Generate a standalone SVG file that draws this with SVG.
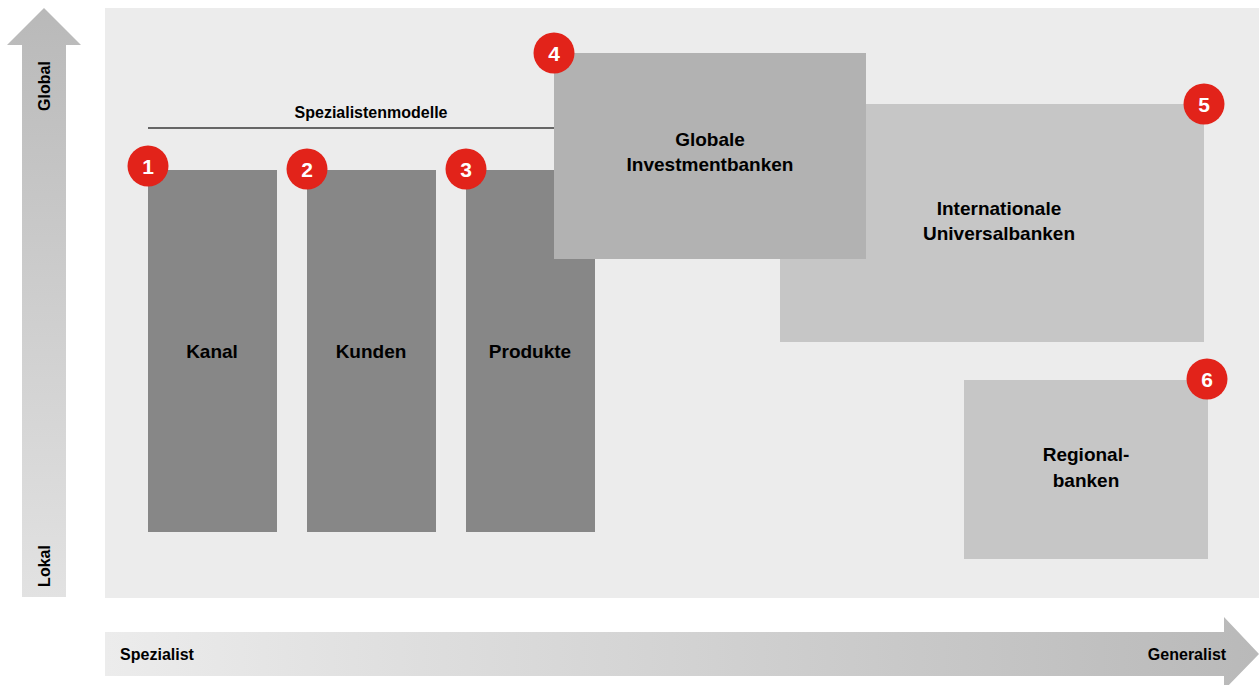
<svg xmlns="http://www.w3.org/2000/svg" width="1259" height="685" viewBox="0 0 1259 685">
  <defs>
    <linearGradient id="gradV" x1="0" y1="0" x2="0" y2="1">
      <stop offset="0" stop-color="#b9b9b9"/>
      <stop offset="1" stop-color="#e2e2e2"/>
    </linearGradient>
    <linearGradient id="gradH" x1="0" y1="0" x2="1" y2="0">
      <stop offset="0" stop-color="#ececec"/>
      <stop offset="1" stop-color="#b9b9b9"/>
    </linearGradient>
    <style>
      .lbl { font-family: "Liberation Sans", Arial, sans-serif; font-weight: bold; fill: #000; text-anchor: middle; }
      .big { font-size: 19px; }
      .small { font-size: 16px; }
      .dark { fill: #878787; }
      .mid { fill: #b2b2b2; }
      .light { fill: #c6c6c6; }
      .badge circle { fill: #e2231a; }
      .badge text { font-family: "Liberation Sans", Arial, sans-serif; font-weight: bold; font-size: 21px; fill: #fff; text-anchor: middle; }
    </style>
  </defs>

  <!-- plot area -->
  <rect x="105" y="8" width="1154" height="590" fill="#ececec"/>

  <!-- axes -->
  <g id="axis-vertical">
    <polygon points="44,8 81,45 66,45 66,597 22,597 22,45 7,45" fill="url(#gradV)"/>
    <text class="lbl small" transform="translate(50,86) rotate(-90)">Global</text>
    <text class="lbl small" transform="translate(50,566) rotate(-90)">Lokal</text>
  </g>
  <g id="axis-horizontal">
    <polygon points="105,632 1224,632 1224,617 1259,654 1224,690 1224,676 105,676" fill="url(#gradH)"/>
    <text class="lbl small" x="157" y="660">Spezialist</text>
    <text class="lbl small" x="1187" y="660">Generalist</text>
  </g>

  <!-- grouping line for the specialist models -->
  <g id="connectors">
    <line x1="148" y1="128" x2="556" y2="128" stroke="#666" stroke-width="2"/>
  </g>
  <text class="lbl small" x="371" y="118">Spezialistenmodelle</text>

  <!-- specialist columns -->
  <g id="node-kanal">
    <rect class="dark" x="148" y="170" width="129" height="362"/>
    <text class="lbl big" x="212" y="358">Kanal</text>
  </g>
  <g id="node-kunden">
    <rect class="dark" x="307" y="170" width="129" height="362"/>
    <text class="lbl big" x="371" y="358">Kunden</text>
  </g>
  <g id="node-produkte">
    <rect class="dark" x="466" y="170" width="129" height="362"/>
    <text class="lbl big" x="530" y="358">Produkte</text>
  </g>

  <!-- bank types -->
  <g id="node-universalbanken">
    <rect class="light" x="780" y="104" width="424" height="238"/>
    <text class="lbl big" x="999" y="215">Internationale</text>
    <text class="lbl big" x="999" y="240">Universalbanken</text>
  </g>
  <g id="node-investmentbanken">
    <rect class="mid" x="554" y="53" width="312" height="206"/>
    <text class="lbl big" x="710" y="146">Globale</text>
    <text class="lbl big" x="710" y="171">Investmentbanken</text>
  </g>
  <g id="node-regionalbanken">
    <rect class="light" x="964" y="380" width="244" height="179"/>
    <text class="lbl big" x="1086" y="461">Regional-</text>
    <text class="lbl big" x="1086" y="487">banken</text>
  </g>

  <!-- numbered badges -->
  <g id="badge-1" class="badge"><circle cx="148" cy="166" r="20.5"/><text x="148" y="174">1</text></g>
  <g id="badge-2" class="badge"><circle cx="307" cy="169" r="20.5"/><text x="307" y="177">2</text></g>
  <g id="badge-3" class="badge"><circle cx="466" cy="169" r="20.5"/><text x="466" y="177">3</text></g>
  <g id="badge-4" class="badge"><circle cx="554" cy="53" r="20.5"/><text x="554" y="61">4</text></g>
  <g id="badge-5" class="badge"><circle cx="1204" cy="104" r="20.5"/><text x="1204" y="112">5</text></g>
  <g id="badge-6" class="badge"><circle cx="1207" cy="379" r="20.5"/><text x="1207" y="387">6</text></g>
</svg>
